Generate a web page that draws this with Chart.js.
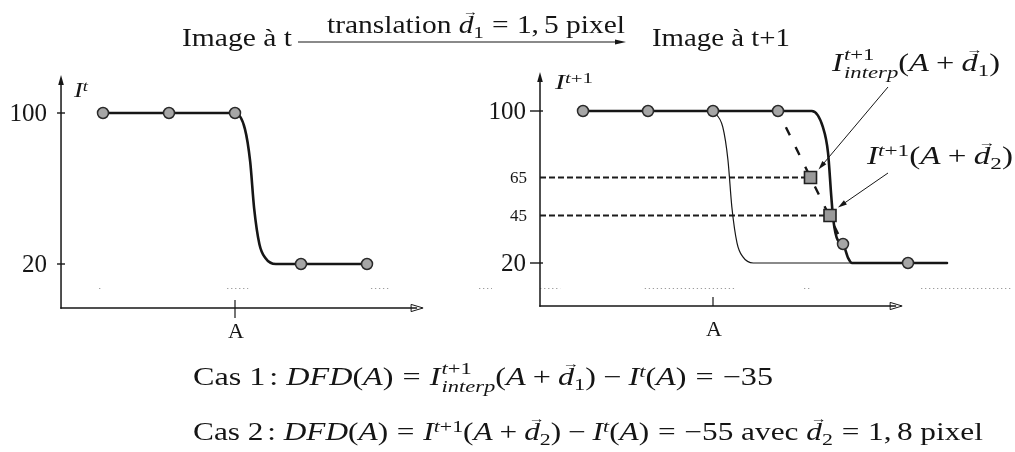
<!DOCTYPE html>
<html lang="fr">
<head>
<meta charset="utf-8">
<title>DFD et translation sous-pixellique</title>
<script src="https://cdn.jsdelivr.net/npm/chart.js@4.4.1/dist/chart.umd.min.js"></script>
<style>
  body { margin: 0; background: #fff; }
  #wrap { position: relative; width: 1015px; height: 452px; overflow: hidden;
          font-family: "Liberation Serif", "DejaVu Serif", serif; color: #151515; }
  #c { position: absolute; left: 0; top: 0; }
  .t { position: absolute; left: 0; top: 0; white-space: nowrap; font-size: 25px;
       line-height: 30px; transform-origin: 0 0; }
  .ax { font-size: 20px; line-height: 24px; }
  i { font-style: italic; }
  .sp { font-size: .7em; vertical-align: .45em; line-height: 0; }
  .sb { font-size: .7em; vertical-align: -.28em; line-height: 0; }
  .ss { display: inline-flex; flex-direction: column; font-size: .7em; line-height: 1.05;
        vertical-align: .62em; margin-left: .05em; }
  .op { margin: 0 .22em; }
  .rel { margin: 0 .28em; }
  .vec { position: relative; display: inline-block; }
  .vec::after { content: "\2192"; position: absolute; left: .25em; top: -.36em;
                font-size: .52em; line-height: 1; font-style: normal; }
</style>
</head>
<body>
<div id="wrap">
  <canvas id="c" width="1015" height="452"></canvas>

  <div class="t" id="tImgT">Image à t</div>
  <div class="t" id="tTrans">translation <span class="vec"><i>d</i></span><span class="sb">1</span><span class="rel">=</span>1,<span style="margin-left:.17em"></span>5 pixel</div>
  <div class="t" id="tImgT1">Image à t+1</div>

  <div class="t ax" id="tAxT"><i>I</i><span class="sp"><i>t</i></span></div>
  <div class="t ax" id="tAxT1"><i>I</i><span class="sp"><i>t</i>+1</span></div>

  <div class="t" id="tNote1"><i>I</i><span class="ss"><span><i>t</i>+1</span><span><i>interp</i></span></span>(<i>A</i><span class="op">+</span><span class="vec"><i>d</i></span><span class="sb">1</span>)</div>
  <div class="t" id="tNote2"><i>I</i><span class="sp"><i>t</i>+1</span>(<i>A</i><span class="op">+</span><span class="vec"><i>d</i></span><span class="sb">2</span>)</div>

  <div class="t" id="tCas1">Cas 1<span style="margin-left:.12em">:</span> <i>DFD</i>(<i>A</i>)<span class="rel">=</span><i>I</i><span class="ss"><span><i>t</i>+1</span><span><i>interp</i></span></span>(<i>A</i><span class="op">+</span><span class="vec"><i>d</i></span><span class="sb">1</span>)<span class="op">−</span><i>I</i><span class="sp"><i>t</i></span>(<i>A</i>)<span class="rel">=</span>−35</div>
  <div class="t" id="tCas2">Cas 2<span style="margin-left:.12em">:</span> <i>DFD</i>(<i>A</i>)<span class="rel">=</span><i>I</i><span class="sp"><i>t</i>+1</span>(<i>A</i><span class="op">+</span><span class="vec"><i>d</i></span><span class="sb">2</span>)<span class="op">−</span><i>I</i><span class="sp"><i>t</i></span>(<i>A</i>)<span class="rel">=</span>−55 avec <span class="vec"><i>d</i></span><span class="sb">2</span><span class="rel">=</span>1,<span style="margin-left:.17em"></span>8 pixel</div>
</div>

<script>
const W = 1015, H = 452;

// ---------- values ----------
// Image at t: pixel samples and the continuous edge profile
const sampleIdxT  = [0, 1, 2, 3, 4];
const sampleValT  = [100, 100, 100, 20, 20];
const edgeIdxT    = [0, 1, 2, 2.15, 2.23, 2.29, 2.37, 2.46, 2.62, 3, 4];
const edgeValT    = [100, 100, 100, 91.6, 74.2, 49.5, 30.5, 23.2, 20, 20, 20];

// Image at t+1: samples, shifted edge profile, and the old edge recalled
const sampleIdxT1 = [0, 1, 2, 3, 4, 5];
const sampleValT1 = [100, 100, 100, 100, 30, 20];
const edgeIdxT1   = [0, 1, 2, 3, 3.52, 3.69, 3.77, 3.82, 3.85, 3.92, 4, 4.08, 4.14, 5, 5.6];
const edgeValT1   = [100, 100, 100, 100, 100, 91.6, 78, 55, 43, 32, 30, 22.6, 20, 20, 20];
const ghostIdx    = [2, 2.15, 2.23, 2.29, 2.37, 2.46, 2.62, 4.14];
const ghostVal    = [100, 91.6, 74.2, 49.5, 30.5, 23.2, 20, 20];

// Linear interpolation between neighbouring samples, and the two probed values
const interpIdx   = [3, 4];
const probeIdx    = [3.5, 3.8];   // A + d1 (1,5 pixel), A + d2 (1,8 pixel)
const probeVal    = [65, 45];

// Tick labels
const yTicksT     = [100, 20];
const yTicksT1    = [100, 65, 45, 20];
const xTickIdx    = 2;
const xTickText   = 'A';

// ---------- panel geometry (pixel calibration of each plot) ----------
const panelT = {
  xId: 'xL', yId: 'yL',
  calib: { px0: 103, step: 66, py100: 113, py20: 264 },
  axisX: -0.636, axisY: -3.31, xEnd: 4.85, yTop: 120.1,
  ticks: yTicksT, tickMarks: [100, 20], tickIn: 4, tickOut: 4,
  aTickUp: 8, aTickDown: 10, aLabelDy: 30,
  faint: { y: 7.3, spans: [[-0.06, -0.03], [1.88, 2.2], [4.06, 4.35]] }
};
const panelT1 = {
  xId: 'xR', yId: 'yR',
  calib: { px0: 583, step: 65, py100: 111, py20: 263 },
  axisX: -0.6615, axisY: -2.63, xEnd: 4.91, yTop: 120.5,
  ticks: yTicksT1, tickMarks: [100, 20], tickIn: 10, tickOut: 3,
  aTickUp: 9, aTickDown: 0, aLabelDy: 30,
  faint: { y: 6.8, spans: [[-1.6, -1.4], [-0.66, -0.35], [0.95, 2.35], [3.4, 3.5], [5.2, 6.6]] }
};

function xRange(c) { return { min: -c.px0 / c.step, max: (W - c.px0) / c.step }; }
function yRange(c) {
  const k = (c.py20 - c.py100) / 80;
  return { min: 100 - (H - c.py100) / k, max: 100 + c.py100 / k };
}

const pts = (xs, ys) => xs.map((x, i) => ({ x, y: ys[i] }));

const INK = '#161616';
const DOT_FILL = '#a6a6a6';
const DOT_EDGE = '#2a2a2a';
const SERIF = '"Liberation Serif", "DejaVu Serif", serif';

function arrow(ctx, x1, y1, x2, y2, o) {
  const len = o.len, half = o.half;
  const a = Math.atan2(y2 - y1, x2 - x1);
  const c = Math.cos(a), s = Math.sin(a);
  ctx.lineWidth = o.lw;
  ctx.beginPath();
  ctx.moveTo(x1, y1);
  ctx.lineTo(x2 - c * len * 0.5, y2 - s * len * 0.5);
  ctx.stroke();
  const bx = x2 - c * len, by = y2 - s * len;
  ctx.beginPath();
  ctx.moveTo(x2, y2);
  ctx.lineTo(bx - s * half, by + c * half);
  ctx.lineTo(bx + s * half, by - c * half);
  ctx.closePath();
  if (o.open) { ctx.lineWidth = 1; ctx.stroke(); } else ctx.fill();
}

function drawFrame(ctx, chart, p) {
  const sx = chart.scales[p.xId], sy = chart.scales[p.yId];
  const x0 = sx.getPixelForValue(p.axisX), y0 = sy.getPixelForValue(p.axisY);
  const xe = sx.getPixelForValue(p.xEnd), yt = sy.getPixelForValue(p.yTop);
  ctx.save();
  ctx.strokeStyle = INK; ctx.fillStyle = INK;
  // faint dotted baseline
  ctx.save();
  ctx.strokeStyle = '#9d9d9d'; ctx.lineWidth = 1; ctx.setLineDash([1.3, 2.7]);
  const fy = Math.round(sy.getPixelForValue(p.faint.y)) + 0.5;
  for (const [a, b] of p.faint.spans) {
    ctx.beginPath();
    ctx.moveTo(sx.getPixelForValue(a), fy);
    ctx.lineTo(sx.getPixelForValue(b), fy);
    ctx.stroke();
  }
  ctx.restore();
  // axes with arrow heads
  arrow(ctx, x0, y0 + 0.7, x0, yt, { len: 10, half: 2.8, lw: 1.5 });
  arrow(ctx, x0 - 0.7, y0, xe, y0, { len: 12, half: 3.6, lw: 1.5, open: true });
  // y tick marks
  ctx.lineWidth = 1.4;
  for (const v of p.tickMarks) {
    const y = sy.getPixelForValue(v);
    ctx.beginPath(); ctx.moveTo(x0 - p.tickIn, y); ctx.lineTo(x0 + p.tickOut, y); ctx.stroke();
  }
  // x tick at A
  const xa = sx.getPixelForValue(xTickIdx);
  ctx.lineWidth = 1.2;
  ctx.beginPath(); ctx.moveTo(xa, y0 - p.aTickUp); ctx.lineTo(xa, y0 + p.aTickDown); ctx.stroke();
  ctx.restore();
}

function drawLabels(ctx, chart, p) {
  const sx = chart.scales[p.xId], sy = chart.scales[p.yId];
  const x0 = sx.getPixelForValue(p.axisX), y0 = sy.getPixelForValue(p.axisY);
  ctx.save();
  ctx.fillStyle = INK;
  ctx.textAlign = 'right'; ctx.textBaseline = 'middle';
  for (const v of p.ticks) {
    const big = v === 100 || v === 20;
    ctx.font = (big ? 25 : 17) + 'px ' + SERIF;
    ctx.fillText(String(v), x0 - (big ? 14 : 13), sy.getPixelForValue(v) + 1);
  }
  ctx.textAlign = 'center'; ctx.textBaseline = 'alphabetic';
  ctx.font = '22px ' + SERIF;
  ctx.fillText(xTickText, sx.getPixelForValue(xTickIdx) + 1, y0 + p.aLabelDy);
  ctx.restore();
}

const noteTails = [[888, 87], [888, 173]];
const titleArrow = { x1: 298, x2: 626, y: 42 };

const diagram = {
  id: 'diagram',
  beforeDatasetsDraw(chart) {
    const ctx = chart.ctx;
    drawFrame(ctx, chart, panelT);
    drawFrame(ctx, chart, panelT1);
    // dashed guides from the I^{t+1} axis to the probed values
    const sx = chart.scales.xR, sy = chart.scales.yR;
    const x0 = sx.getPixelForValue(panelT1.axisX);
    ctx.save();
    ctx.strokeStyle = '#1c1c1c'; ctx.lineWidth = 2.2; ctx.setLineDash([6, 3]);
    probeIdx.forEach((ix, i) => {
      const y = sy.getPixelForValue(probeVal[i]);
      ctx.beginPath(); ctx.moveTo(x0, y); ctx.lineTo(sx.getPixelForValue(ix), y); ctx.stroke();
    });
    ctx.restore();
  },
  afterDatasetsDraw(chart) {
    const ctx = chart.ctx;
    const sx = chart.scales.xR, sy = chart.scales.yR;
    ctx.save();
    ctx.strokeStyle = INK; ctx.fillStyle = INK;
    probeIdx.forEach((ix, i) => {
      const hx = sx.getPixelForValue(ix) + 8, hy = sy.getPixelForValue(probeVal[i]) - 8;
      arrow(ctx, noteTails[i][0], noteTails[i][1], hx, hy, { len: 9, half: 2.6, lw: 1 });
    });
    arrow(ctx, titleArrow.x1, titleArrow.y, titleArrow.x2, titleArrow.y, { len: 11, half: 2.6, lw: 1.1 });
    ctx.restore();
    drawLabels(ctx, chart, panelT);
    drawLabels(ctx, chart, panelT1);
  }
};

const markerStyle = {
  showLine: false, pointRadius: 5.5, pointHoverRadius: 5.5,
  pointBackgroundColor: DOT_FILL, pointBorderColor: DOT_EDGE, pointBorderWidth: 1.5, order: 0
};
const curveStyle = {
  pointRadius: 0, borderColor: INK, borderWidth: 2.6, fill: false,
  cubicInterpolationMode: 'monotone', borderCapStyle: 'round', borderJoinStyle: 'round'
};

new Chart(document.getElementById('c'), {
  type: 'line',
  data: {
    datasets: [
      { label: 'échantillons I^t', data: pts(sampleIdxT, sampleValT), xAxisID: 'xL', yAxisID: 'yL', ...markerStyle },
      { label: 'échantillons I^{t+1}', data: pts(sampleIdxT1, sampleValT1), xAxisID: 'xR', yAxisID: 'yR', ...markerStyle },
      { label: 'valeurs en A+d', data: pts(probeIdx, probeVal), xAxisID: 'xR', yAxisID: 'yR',
        showLine: false, pointStyle: 'rect', pointRadius: 8.5, pointHoverRadius: 8.5,
        pointBackgroundColor: '#9a9a9a', pointBorderColor: '#202020', pointBorderWidth: 1.6, order: 0 },
      { label: 'I^t', data: pts(edgeIdxT, edgeValT), xAxisID: 'xL', yAxisID: 'yL', ...curveStyle, order: 2 },
      { label: 'I^{t+1}', data: pts(edgeIdxT1, edgeValT1), xAxisID: 'xR', yAxisID: 'yR', ...curveStyle, order: 2 },
      { label: 'interpolation linéaire', data: pts(interpIdx, interpIdx.map(i => sampleValT1[i])),
        xAxisID: 'xR', yAxisID: 'yR', pointRadius: 0, borderColor: INK, borderWidth: 2.4,
        borderDash: [9, 13], borderDashOffset: 4, fill: false, order: 3 },
      { label: 'I^t (rappel)', data: pts(ghostIdx, ghostVal), xAxisID: 'xR', yAxisID: 'yR',
        ...curveStyle, borderWidth: 1.2, order: 4 }
    ]
  },
  options: {
    responsive: false, animation: false, devicePixelRatio: 1,
    layout: { padding: 0, autoPadding: false },
    plugins: { legend: { display: false }, tooltip: { enabled: false }, title: { display: false } },
    events: [],
    scales: {
      xL: { type: 'linear', display: false, ...xRange(panelT.calib) },
      yL: { type: 'linear', display: false, ...yRange(panelT.calib) },
      xR: { type: 'linear', display: false, ...xRange(panelT1.calib) },
      yR: { type: 'linear', display: false, ...yRange(panelT1.calib) }
    }
  },
  plugins: [diagram]
});

// ---------- text placement: left edge, right edge (width fit), baseline ----------
const textLayout = [
  ['tImgT', 182, 292, 46],
  ['tTrans', 327, 625, 33],
  ['tImgT1', 652, 790, 46],
  ['tAxT', 74, 88, 97],
  ['tAxT1', 555, 593, 89],
  ['tNote1', 832, 1000, 71],
  ['tNote2', 867, 1013, 164],
  ['tCas1', 193, 773, 385],
  ['tCas2', 193, 983, 440]
];

function placeText() {
  for (const [id, left, right, base] of textLayout) {
    const el = document.getElementById(id);
    el.style.transform = 'none';
    let m = el.querySelector('.bl');
    if (!m) {
      m = document.createElement('span');
      m.className = 'bl';
      m.style.cssText = 'display:inline-block;width:0;height:0;';
      el.appendChild(m);
    }
    el.style.left = left + 'px';
    el.style.top = '0px';
    const b = m.offsetTop;
    const w = el.getBoundingClientRect().width;
    el.style.top = (base - b) + 'px';
    if (right) el.style.transform = 'scaleX(' + ((right - left) / w).toFixed(4) + ')';
  }
}
placeText();
if (document.fonts && document.fonts.ready) document.fonts.ready.then(placeText);
</script>
</body>
</html>
